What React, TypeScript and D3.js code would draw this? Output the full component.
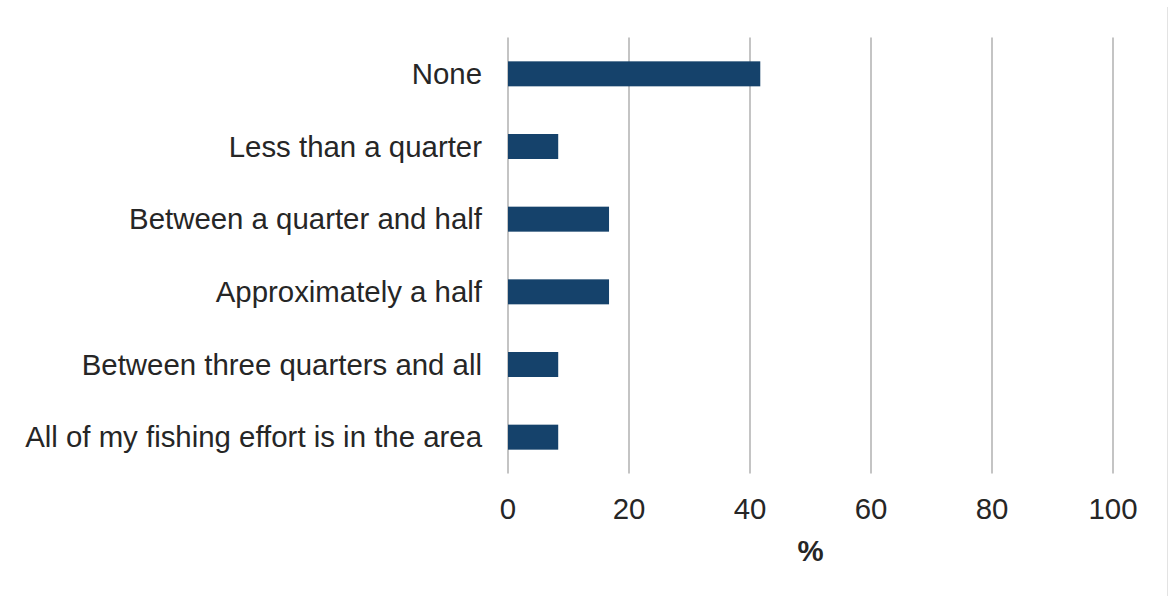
import React from "react";
import * as d3 from "d3";

const categories = [
  "None",
  "Less than a quarter",
  "Between a quarter and half",
  "Approximately a half",
  "Between three quarters and all",
  "All of my fishing effort is in the area",
];
const values = [41.7, 8.3, 16.7, 16.7, 8.3, 8.3];
const xTicks = [0, 20, 40, 60, 80, 100];
const xTitle = "%";

const W = 1172;
const H = 596;
const FONT = "'Liberation Sans', Arial, sans-serif";
const FS = 29.4;

export default function App() {
  const x = d3.scaleLinear().domain([0, 100]).range([508, 1113]);
  const y = d3
    .scaleBand<string>()
    .domain(categories)
    .range([37.5, 473.5])
    .paddingInner(0.656)
    .paddingOuter(0.328);

  return (
    <svg
      width={W}
      height={H}
      style={{ position: "absolute", left: 0, top: 0, background: "#fff" }}
    >
      <line x1={1167.5} x2={1167.5} y1={7} y2={H} stroke="#e3e3e3" strokeWidth={1} />
      {xTicks.map((t) => (
        <line
          key={"g" + t}
          x1={x(t)}
          x2={x(t)}
          y1={37.5}
          y2={473.5}
          stroke="#c4c4c4"
          strokeWidth={2}
        />
      ))}
      {categories.map((c, i) => (
        <rect
          key={"b" + c}
          x={x(0)}
          y={y(c)}
          width={x(values[i]) - x(0)}
          height={y.bandwidth()}
          fill="#15426b"
        />
      ))}
      {categories.map((c) => (
        <text
          key={"l" + c}
          x={482}
          y={(y(c) ?? 0) + y.bandwidth() / 2}
          dy="0.35em"
          textAnchor="end"
          fontFamily={FONT}
          fontSize={FS}
          fill="#262626"
        >
          {c}
        </text>
      ))}
      {xTicks.map((t) => (
        <text
          key={"t" + t}
          x={x(t)}
          y={519}
          textAnchor="middle"
          fontFamily={FONT}
          fontSize={FS}
          fill="#262626"
        >
          {t}
        </text>
      ))}
      <text
        x={(x(0) + x(100)) / 2}
        y={561}
        textAnchor="middle"
        fontFamily={FONT}
        fontSize={FS}
        fontWeight="bold"
        fill="#262626"
      >
        {xTitle}
      </text>
    </svg>
  );
}
